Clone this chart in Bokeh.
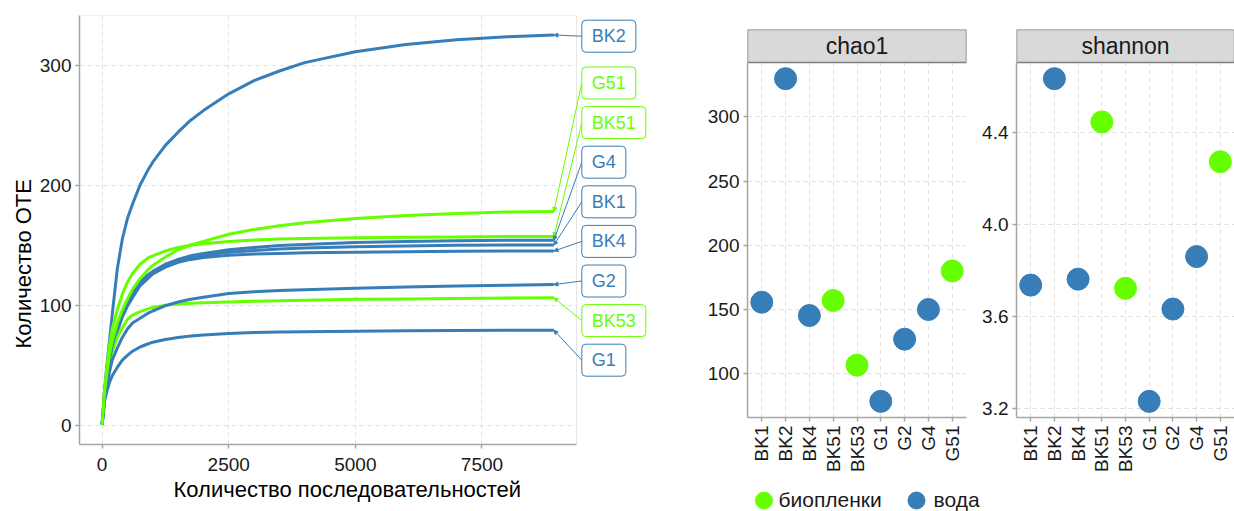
import math
from bokeh.plotting import figure
from bokeh.models import (Range1d, FixedTicker, Label, Arrow, NormalHead, Title,
                          NumeralTickFormatter)
from bokeh.layouts import row, column
from bokeh.embed import file_html
from bokeh.resources import INLINE
from bokeh.core.properties import value

# ---------------- data ----------------
samples = ["BK1", "BK2", "BK4", "BK51", "BK53", "G1", "G2", "G4", "G51"]
groups = ["вода", "вода", "вода", "биопленки", "биопленки", "вода", "вода", "вода", "биопленки"]
legend_labels = ["биопленки", "вода"]
chao1 = [155.7, 329.7, 145.3, 157.0, 106.7, 78.5, 126.9, 150.0, 180.0]
shannon = [3.737, 4.634, 3.763, 4.446, 3.723, 3.232, 3.633, 3.861, 4.273]

depth = [0, 50, 100, 150, 200, 300, 400, 500, 600, 750, 900, 1000, 1250, 1500, 1750,
         2000, 2500, 3000, 3500, 4000, 5000, 6000, 7000, 8000, 8920]
rare_BK1 = [0, 26, 41, 54, 65, 80, 92, 101, 108, 118, 124, 127, 133, 137, 139.5,
            141.5, 144, 145.5, 146.7, 147.5, 148.5, 149.2, 149.7, 150, 150]
rare_BK2 = [0, 30, 52, 72, 92, 130, 155, 172, 184, 200, 212, 219, 233, 244, 254,
            262, 276, 287, 295, 302, 311, 317, 321, 323.5, 325]
rare_BK4 = [0, 25, 40, 52, 63, 78, 90, 99, 106, 116, 122, 126, 131.5, 135.5, 138,
            139.5, 141.5, 142.5, 143, 143.5, 144, 144.4, 144.7, 145, 145]
rare_BK51 = [0, 30, 50, 68, 80, 96, 109, 119, 126, 134, 139, 141, 145, 148, 149.8,
             151, 153, 154.2, 155, 155.5, 156, 156.4, 156.7, 157, 157]
rare_BK53 = [0, 24, 40, 52, 61, 73, 81, 88, 91.5, 94.5, 96.8, 98, 99.8, 100.8, 101.4,
             101.8, 102.6, 103.2, 103.6, 104, 104.7, 105.1, 105.5, 105.8, 106]
rare_G1 = [0, 20, 29, 36, 41, 48, 54, 58, 61.5, 65, 67.5, 69, 71.3, 73, 74.2,
           75, 76.3, 77, 77.4, 77.7, 78.2, 78.5, 78.7, 78.9, 79]
rare_G2 = [0, 22, 34, 45, 54, 64, 73, 80, 85, 89, 93, 95, 99.5, 102.5, 104.8,
           106.5, 109.5, 111, 112, 112.8, 114, 115, 115.8, 116.5, 117]
rare_G4 = [0, 27, 42, 55, 66, 82, 94, 103, 110, 119, 125, 128, 134, 138, 141,
           143, 146, 148, 149.5, 150.5, 152, 153, 153.6, 154, 154]
rare_G51 = [0, 28, 45, 60, 70, 85, 96, 105, 113, 122, 129, 133, 140, 146, 150,
            153, 159, 163, 166, 168.5, 172, 174.5, 176.3, 177.5, 178]
rare = {"BK1": rare_BK1, "BK2": rare_BK2, "BK4": rare_BK4, "BK51": rare_BK51,
        "BK53": rare_BK53, "G1": rare_G1, "G2": rare_G2, "G4": rare_G4, "G51": rare_G51}

x_ticks_left = [0, 2500, 5000, 7500]
y_ticks_left = [0, 100, 200, 300]
chao1_ticks = [100, 150, 200, 250, 300]
shannon_ticks = [3.2, 3.6, 4.0, 4.4]

# tag-box vertical positions (data units) for the curve labels
label_y = {"BK2": 324, "G51": 285, "BK51": 252, "G4": 219, "BK1": 186,
           "BK4": 153, "G2": 120, "BK53": 87, "G1": 54}
label_x = 9471

# ---------------- style ----------------
FONT = "Liberation Sans"
BLUE = "#377EB8"
GREEN = "#66FF00"
COL = {"вода": BLUE, "биопленки": GREEN}
AXIS_COL = "#a6a6a6"
GRID_COL = "#dddddd"
TXT = "#1a1a1a"


def style_axes(p, tick_size):
    for ax in p.axis:
        ax.axis_line_color = AXIS_COL
        ax.axis_line_width = 1.5
        ax.major_tick_line_color = AXIS_COL
        ax.major_tick_line_width = 1.5
        ax.major_tick_in = 0
        ax.major_tick_out = 4
        ax.minor_tick_line_color = None
        ax.major_label_text_font = FONT
        ax.major_label_text_font_size = tick_size
        ax.major_label_text_color = TXT
    for g in p.grid:
        g.grid_line_color = GRID_COL
        g.grid_line_dash = "4 4"
        g.grid_line_width = 1


# ---------------- left: rarefaction curves ----------------
FRAME_W = 581   # frame incl. tag area
PANEL_W = 497   # plotting panel part
x_max = max(depth)
y_max = max(max(v) for v in rare.values())
x_lo, x_hi = -0.05 * x_max, 1.05 * x_max
y_lo, y_hi = -0.05 * y_max, 1.05 * y_max
x_end = x_lo + (x_hi - x_lo) * FRAME_W / PANEL_W

pL = figure(width=660, height=511, output_backend="svg", toolbar_location=None,
            x_range=Range1d(x_lo, x_end), y_range=Range1d(y_lo, y_hi),
            min_border_left=79, min_border_right=0, min_border_top=15, min_border_bottom=67)
pL.background_fill_color = "white"
pL.border_fill_color = "white"
pL.outline_line_color = None
style_axes(pL, "19px")
pL.xaxis.ticker = FixedTicker(ticks=x_ticks_left)
pL.yaxis.ticker = FixedTicker(ticks=y_ticks_left)
pL.xaxis.bounds = (x_lo, x_hi)
pL.xaxis.major_label_standoff = 9
pL.yaxis.major_label_standoff = 4
pL.add_layout(Title(text="Количество последовательностей", align="left", offset=94,
                    text_font=FONT, text_font_size="22px", text_font_style="normal",
                    text_color="#000000", standoff=3), "below")
pL.add_layout(Title(text="Количество ОТЕ", align="left", offset=96,
                    text_font=FONT, text_font_size="22px", text_font_style="normal",
                    text_color="#000000", standoff=2), "left")

# blank out the tag area beyond the panel and draw the light panel border
pL.quad(left=[x_hi], right=[x_end], bottom=[y_lo], top=[y_hi],
        fill_color="white", line_color=None)
pL.segment(x0=[x_lo, x_hi], y0=[y_hi, y_lo], x1=[x_hi, x_hi], y1=[y_hi, y_hi],
           line_color="#e6e6e6", line_width=1)

for s, g in zip(samples, groups):
    pL.line(depth, rare[s], line_color=COL[g], line_width=3, line_join="round")

for s, g in zip(samples, groups):
    c = COL[g]
    pL.add_layout(Arrow(x_start=label_x, y_start=label_y[s], x_end=depth[-1], y_end=rare[s][-1],
                        line_color=c, line_width=1,
                        end=NormalHead(size=4, fill_color=c, line_color=c)))
for s, g in zip(samples, groups):
    c = COL[g]
    pL.add_layout(Label(x=label_x, y=label_y[s], text=s, text_align="left", text_baseline="middle",
                        text_font=FONT, text_font_size="18px", text_color=c,
                        background_fill_color="white", border_line_color=c, border_line_width=1,
                        border_radius=4, padding=dict(left=10, right=10, top=6, bottom=6)))


# ---------------- right: facet panels ----------------
STRIP_PX = 33
PANEL_PX = 355
xs = list(range(1, len(samples) + 1))


def panel(vals, title, ticks, fmt, width, mbl, mbr):
    lo, hi = min(vals), max(vals)
    pad = 0.05 * (hi - lo)
    ylo, yhi = lo - pad, hi + pad
    ytop = yhi + STRIP_PX * (yhi - ylo) / PANEL_PX
    p = figure(width=width, height=487, output_backend="svg", toolbar_location=None,
               x_range=Range1d(0.4, len(samples) + 0.6), y_range=Range1d(ylo, ytop),
               min_border_left=mbl, min_border_right=mbr, min_border_top=29, min_border_bottom=70)
    p.background_fill_color = "white"
    p.border_fill_color = "white"
    p.outline_line_color = None
    style_axes(p, "19px")
    p.xaxis.major_label_text_font_size = "19px"
    p.xaxis.ticker = FixedTicker(ticks=xs)
    p.xaxis.major_label_overrides = {i: s for i, s in zip(xs, samples)}
    p.xaxis.major_label_orientation = math.pi / 2
    p.xaxis.major_label_standoff = 4
    p.yaxis.ticker = FixedTicker(ticks=ticks)
    p.yaxis.formatter = NumeralTickFormatter(format=fmt)
    p.yaxis.bounds = (ylo, yhi)
    p.yaxis.major_label_standoff = 4
    p.xgrid.ticker = FixedTicker(ticks=xs)

    for gname in legend_labels:
        gx = [x for x, g in zip(xs, groups) if g == gname]
        gy = [v for v, g in zip(vals, groups) if g == gname]
        p.scatter(gx, gy, size=22, fill_color=COL[gname], line_color=COL[gname])

    p.quad(left=[0.4], right=[len(samples) + 0.6], bottom=[yhi], top=[ytop],
           fill_color="#d9d9d9", line_color="#808080", line_width=1.5)
    p.text(x=[(len(samples) + 1) / 2], y=[(yhi + ytop) / 2], text=[title],
           text_align="center", text_baseline="middle", text_font=value(FONT),
           text_font_size="23px", text_color=TXT)
    return p


pC = panel(chao1, "chao1", chao1_ticks, "0", 310, 87, 4)
pS = panel(shannon, "shannon", shannon_ticks, "0.0", 264, 46, 0)

# ---------------- legend strip ----------------
LEG_W, LEG_H = 574, 24
pLeg = figure(width=LEG_W, height=LEG_H, output_backend="svg", toolbar_location=None,
              x_range=Range1d(0, LEG_W), y_range=Range1d(0, LEG_H),
              min_border=0, x_axis_type=None, y_axis_type=None)
pLeg.outline_line_color = None
pLeg.grid.visible = False
pLeg.background_fill_color = "white"
pLeg.border_fill_color = "white"
leg_dot_x = [103.5, 256]
leg_txt_x = [118, 273]
pLeg.scatter(x=leg_dot_x, y=[11, 11], size=17,
             fill_color=[COL[g] for g in legend_labels], line_color=[COL[g] for g in legend_labels])
pLeg.text(x=leg_txt_x, y=[12, 12], text=legend_labels, text_align="left", text_baseline="middle",
          text_font=value(FONT), text_font_size="21px", text_color=TXT)

layout = row(pL, column(row(pC, pS, spacing=0), pLeg, spacing=0), spacing=0)
open("out.html", "w").write(file_html(layout, INLINE))
